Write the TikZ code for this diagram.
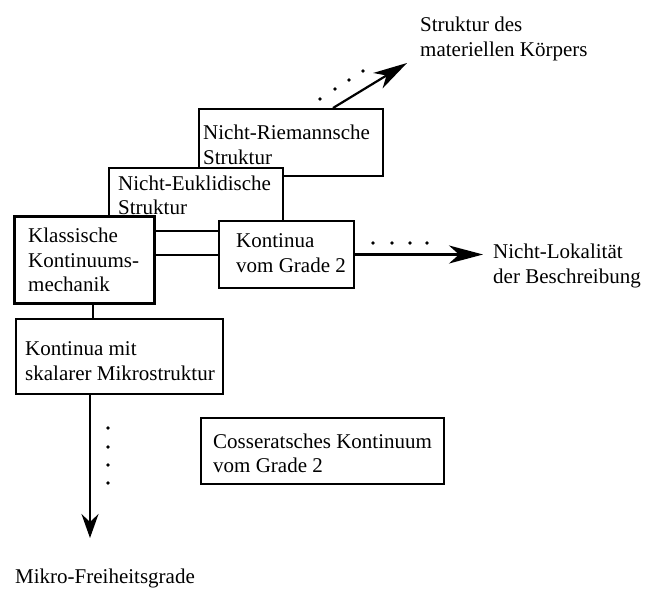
\documentclass[tikz,border=0pt]{standalone}
\usepackage{fontspec}
\setmainfont{Liberation Serif}
\usetikzlibrary{arrows.meta}
\begin{document}
\begin{tikzpicture}[x=1pt,y=-1pt,
  txt/.style={font=\fontsize{21}{24.5}\selectfont, align=left, inner sep=0pt, anchor=west},
  box/.style={draw, line width=2pt, fill=white, anchor=north west, inner sep=0pt},
  conn/.style={line width=2pt},
  arr/.style={line width=2.2pt, -{Stealth[length=34pt,width=18pt,inset=10pt]}},
  dnarr/.style={line width=2.2pt, -{Stealth[length=24pt,width=17pt,inset=8pt]}},
  dotmark/.style={fill=black},
]
\useasboundingbox (0,0) rectangle (652,588);

% stacked boxes
\node[box, minimum width=184pt, minimum height=67pt] (riem) at (198,108) {};
\node[txt] (riemt) at (203,145) {Nicht-Riemannsche\\Struktur};
\node[box, minimum width=174pt, minimum height=63pt] (eukl) at (108,167) {};
\node[txt] (euklt) at (118,195.5) {Nicht-Euklidische\\Struktur};

\node[box, line width=2.8pt, minimum width=140pt, minimum height=87pt] (klass) at (13,215) {};
\node[txt] (klasst) at (28,260) {Klassische\\Kontinuums-\\mechanik};

\node[box, minimum width=135pt, minimum height=67pt] (kont2) at (218,220) {};
\node[txt] (kont2t) at (236,253) {Kontinua\\vom Grade 2};

\node[box, minimum width=207pt, minimum height=75pt] (mikro) at (15,318) {};
\node[txt] (mikrot) at (25,361) {Kontinua mit\\skalarer Mikrostruktur};

\node[box, minimum width=243pt, minimum height=66pt] (coss) at (200,417) {};
\node[txt] (cosst) at (213,453.5) {Cosseratsches Kontinuum\\vom Grade 2};

% labels
\node[txt] (lstrukt) at (420,39) {Struktur des\\materiellen Körpers};
\node[txt] (llokal) at (493,266) {Nicht-Lokalität\\der Beschreibung};
\node[txt] (lmikro) at (15,578) {Mikro-Freiheitsgrade};

% tips
\coordinate (rtip) at (407,63);
\coordinate (ltip) at (483,0);
\coordinate (dtip) at (90,538);

% connectors
\draw[conn] (kont2.west -| klass.east) -- (kont2.west);
\draw[conn] ([xshift=9pt]klass.south) -- ([xshift=9pt]klass.south |- mikro.north);
\draw[arr] (kont2.east) -- (kont2.east -| ltip);
\draw[arr] ([xshift=42pt]riem.north) -- (rtip);
\draw[dnarr] (dtip |- mikro.south) -- (dtip);

% dots
\foreach \x in {373,392,410,427} \fill[dotmark] (\x,243) circle (1.8pt);
\foreach \y in {428,447,465,483} \fill[dotmark] (108,\y) circle (1.8pt);
\foreach \x/\y in {320/99,335/89,349/80,363/71} \fill[dotmark] (\x,\y) circle (1.8pt);
\end{tikzpicture}
\end{document}
